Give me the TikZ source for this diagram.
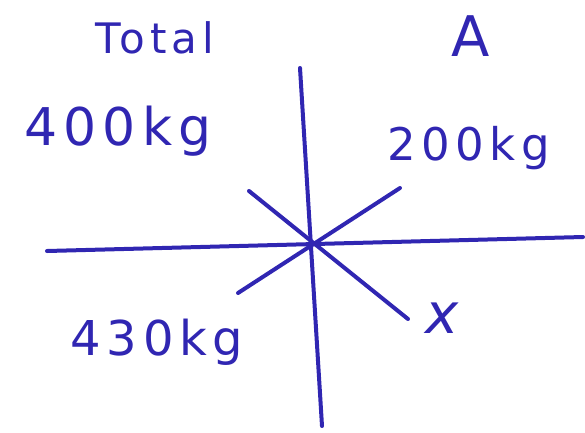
\documentclass[tikz,border=0pt]{standalone}
\usepackage{fontspec}
\usepackage{tikz}
\usepackage{xcolor}
\newfontfamily\handfont[LetterSpace=12]{DejaVu Sans}
\definecolor{penblue}{RGB}{48,38,178}

\begin{document}
\begin{tikzpicture}[x=1pt,y=-1pt,
    pen/.style={draw=penblue,line width=4pt,line cap=round},
    word/.style={text=penblue,inner sep=0pt,font=\handfont\fontsize{48}{54}\selectfont}]
  \useasboundingbox (0,0) rectangle (585,432);
  % axes
  \coordinate (vtop) at (300,68);
  \coordinate (vbot) at (322,426);
  \coordinate (hleft) at (47,251);
  \coordinate (hright) at (583,237);
  \coordinate (dlow) at (238,293);
  \coordinate (dhigh) at (400,188);
  \coordinate (xstart) at (249,191);
  \coordinate (xend) at (408,319);
  \draw[pen] (vtop) -- (vbot);
  \draw[pen] (hleft) -- (hright);
  \draw[pen] (dlow) -- (dhigh);
  \draw[pen] (xstart) -- (xend);
  % labels
  \node[word,font=\handfont\fontsize{42}{48}\selectfont] (total) at (155,38) {Total};
  \node[word,font=\handfont\fontsize{56}{60}\selectfont] (grpA) at (471,36) {A};
  \node[word,font=\handfont\fontsize{52}{58}\selectfont] (kgtotal) at (118,131) {400kg};
  \node[word,font=\handfont\fontsize{45}{50}\selectfont] (kgA) at (469,148) {200kg};
  \node[word] (kglow) at (157,342) {430kg};
  \node[word,font=\handfont\itshape\fontsize{56}{60}\selectfont] (xlab) at (442,318) {x};
\end{tikzpicture}
\end{document}
